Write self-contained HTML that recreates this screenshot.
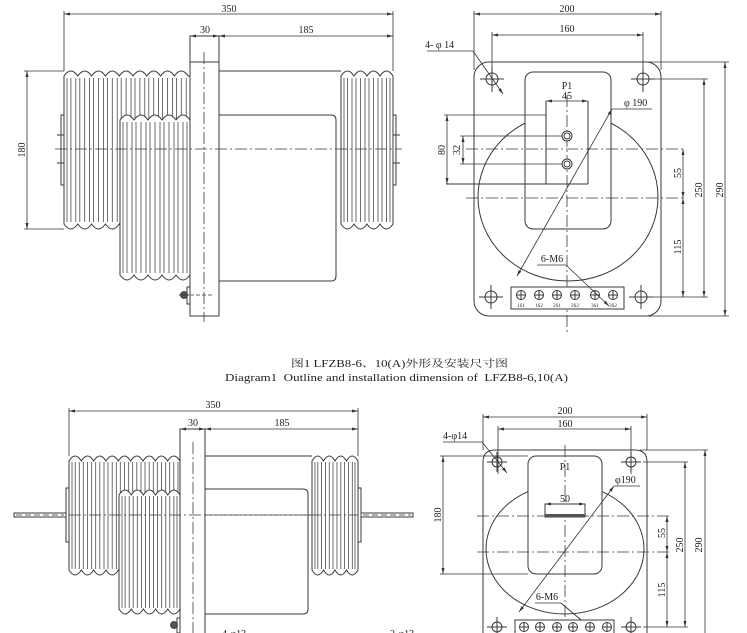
<!DOCTYPE html>
<html><head><meta charset="utf-8">
<style>
html,body{margin:0;padding:0;background:#fff;}
svg{display:block;}
.l{stroke:#383838;stroke-width:1;fill:none}
.w{stroke:#383838;stroke-width:1;fill:#fff}
.h{stroke:#4a4a4a;stroke-width:0.8;fill:none}
.c{stroke:#3a3a3a;stroke-width:0.8;fill:none;stroke-dasharray:12 3 2 3}
.d{stroke:#333;stroke-width:0.8;fill:none}
.dm{stroke:#333;stroke-width:0.8;fill:none;marker-start:url(#a);marker-end:url(#a)}
.me{stroke:#333;stroke-width:0.8;fill:none;marker-end:url(#a)}
text{font-family:"Liberation Serif","Noto Serif CJK SC",serif;fill:#222;font-size:10px}
.m{text-anchor:middle}
.s{font-size:5px}
</style></head><body>
<svg width="747" height="633" viewBox="0 0 747 633" xmlns="http://www.w3.org/2000/svg">
<defs><marker id="a" viewBox="0 0 10 10" refX="10" refY="5" markerWidth="6" markerHeight="6" markerUnits="userSpaceOnUse" orient="auto-start-reverse"><path d="M0,2.5L10,5L0,7.5z" fill="#333"/></marker></defs>

<!-- ================= TOP LEFT ================= -->
<path class="w" d="M64,224V76q6.9,-10 13.8,0q6.9,-10 13.8,0q6.9,-10 13.8,0q6.9,-10 13.8,0q6.9,-10 13.8,0q6.9,-10 13.8,0q6.9,-10 13.8,0q6.9,-10 13.8,0q6.9,-10 13.8,0L190,76V224H188.2q-6.9,10 -13.8,0q-6.9,10 -13.8,0q-6.9,10 -13.8,0q-6.9,10 -13.8,0q-6.9,10 -13.8,0q-6.9,10 -13.8,0q-6.9,10 -13.8,0q-6.9,10 -13.8,0q-6.9,10 -13.8,0Z"/>
<path class="h" d="M67,78V222M70.9,78V222M75.8,78V222M79.8,78V222M84.7,78V222M89.6,78V222M93.6,78V222M98.5,78V222M103.4,78V222M107.4,78V222M112.3,78V222M117.2,78V222M121.2,78V222M126.1,78V222M131,78V222M135,78V222M139.9,78V222M144.8,78V222M148.8,78V222M153.7,78V222M158.6,78V222M162.6,78V222M167.5,78V222M172.4,78V222M176.4,78V222M181.3,78V222M186.2,78V222"/>
<path class="w" d="M120,275V120q7,-10 14,0q7,-10 14,0q7,-10 14,0q7,-10 14,0q7,-10 14,0V275q-7,10 -14,0q-7,10 -14,0q-7,10 -14,0q-7,10 -14,0q-7,10 -14,0Z"/>
<path class="h" d="M123,122V273M127,122V273M132,122V273M136,122V273M141,122V273M146,122V273M150,122V273M155,122V273M160,122V273M164,122V273M169,122V273M174,122V273M178,122V273M183,122V273M187,122V273"/>
<rect class="w" x="190" y="36" width="29" height="280"/>
<path class="l" d="M190,62H219"/>
<path class="l" d="M219,71H341M219,115H331Q336,115 336,120V276Q336,281 331,281H219"/>
<path class="w" d="M341,224V76q6.5,-10 13,0q6.5,-10 13,0q6.5,-10 13,0q6.5,-10 13,0V224q-6.5,10 -13,0q-6.5,10 -13,0q-6.5,10 -13,0q-6.5,10 -13,0Z"/>
<path class="h" d="M344,78V222M347.5,78V222M352,78V222M356,78V222M360.5,78V222M365,78V222M369,78V222M373.5,78V222M378,78V222M382,78V222M386.5,78V222M390,78V222"/>
<rect class="w" x="61" y="115" width="3" height="70"/>
<rect class="w" x="393" y="115" width="3" height="70"/>
<path class="l" d="M57,135H64M57,163H64M393,135H400M393,163H400"/>
<path class="c" d="M55,149H402"/>
<path class="c" d="M204,52V322"/>
<rect class="w" x="187" y="287" width="3" height="17"/>
<circle cx="184" cy="295" r="3.5" fill="#555" stroke="#333" stroke-width="0.8"/>
<path class="l" d="M179,295H189"/>
<path class="c" d="M190,295H212" style="stroke-dasharray:4 2"/>
<!-- dims -->
<path class="d" d="M64,11V71M393,11V71M24,71H64M24,229H64"/>
<path class="dm" d="M64,14H393"/>
<path class="dm" d="M190,36H219"/>
<path class="dm" d="M219,36H393"/>
<path class="dm" d="M27,71V229"/>
<text class="m" x="229" y="12">350</text>
<text class="m" x="205" y="33">30</text>
<text class="m" x="306" y="33">185</text>
<text class="m" transform="translate(25,150) rotate(-90)">180</text>

<!-- ================= TOP RIGHT ================= -->
<rect class="w" x="474" y="62" width="187" height="254" rx="15"/>
<ellipse class="l" cx="568" cy="197" rx="90" ry="84"/>
<rect class="w" x="525" y="72" width="86" height="157" rx="8"/>
<circle class="l" cx="492" cy="79" r="6"/><circle class="l" cx="643" cy="79" r="6"/>
<circle class="l" cx="491" cy="297" r="6"/><circle class="l" cx="641" cy="297" r="6"/>
<path class="l" d="M480,79H504M492,67V91M631,79H655M643,67V91M479,297H503M491,285V309M629,297H653M641,285V309"/>
<path class="d" d="M474,11V70M661,11V70M492,32V92M643,32V92"/>
<path class="dm" d="M474,14H661"/>
<path class="dm" d="M492,35H643"/>
<text class="m" x="567" y="12">200</text>
<text class="m" x="567" y="32">160</text>
<text x="425" y="48" xml:space="preserve">4- φ 14</text>
<path class="d" d="M427,51H473"/>
<path class="me" d="M473,51L503,94"/>
<path class="d" d="M648,62H729M648,316H729M655,79H708M653,297H708"/>
<path class="dm" d="M725,62V316"/>
<path class="dm" d="M704,79V297"/>
<path class="dm" d="M683,149V198"/>
<path class="dm" d="M683,198V297"/>
<text class="m" transform="translate(723,190) rotate(-90)">290</text>
<text class="m" transform="translate(702,190) rotate(-90)">250</text>
<text class="m" transform="translate(681,173) rotate(-90)">55</text>
<text class="m" transform="translate(681,247) rotate(-90)">115</text>
<path class="c" d="M466,149H686M466,198H686"/>
<path class="c" d="M567,95V332"/>
<text class="m" x="567" y="89">P1</text>
<path class="dm" d="M546,101H588"/>
<text class="m" x="567" y="99">45</text>
<path class="l" d="M546,101V184M588,101V184M446,184H588"/>
<path class="d" d="M444,115H546M460,136H562M460,164H562"/>
<path class="dm" d="M447,115V184"/>
<path class="dm" d="M463,136V164"/>
<text class="m" transform="translate(445,150) rotate(-90)">80</text>
<text class="m" transform="translate(460,150) rotate(-90)">32</text>
<circle class="w" cx="567" cy="136" r="5"/><circle class="l" cx="567" cy="136" r="3"/>
<circle class="w" cx="567" cy="164" r="5"/><circle class="l" cx="567" cy="164" r="3"/>
<path class="dm" d="M517,276L612,109"/>
<path class="d" d="M612,109H652"/>
<text x="624" y="106" xml:space="preserve">φ 190</text>
<rect class="w" x="511" y="287" width="113" height="22"/>
<g class="l">
<circle cx="521" cy="295" r="4.5"/><circle cx="539" cy="295" r="4.5"/><circle cx="557" cy="295" r="4.5"/><circle cx="575" cy="295" r="4.5"/><circle cx="595" cy="295" r="4.5"/><circle cx="613" cy="295" r="4.5"/>
<path d="M516.5,295h9M521,290.5v9M534.5,295h9M539,290.5v9M552.5,295h9M557,290.5v9M570.5,295h9M575,290.5v9M590.5,295h9M595,290.5v9M608.5,295h9M613,290.5v9"/>
</g>
<text class="m s" x="521" y="307">1S1</text><text class="m s" x="539" y="307">1S2</text><text class="m s" x="557" y="307">2S1</text><text class="m s" x="575" y="307">2S2</text><text class="m s" x="595" y="307">3S1</text><text class="m s" x="613" y="307">3S2</text>
<text class="m" x="552" y="262">6-M6</text>
<path class="d" d="M537,265H566"/>
<path class="me" d="M566,265L609,306"/>

<!-- ================= CAPTION ================= -->
<text x="291" y="367" font-size="12" textLength="217" lengthAdjust="spacingAndGlyphs">图1 LFZB8-6、10(A)外形及安装尺寸图</text>
<text x="225" y="381" font-size="12" textLength="343" lengthAdjust="spacingAndGlyphs" xml:space="preserve">Diagram1  Outline and installation dimension of  LFZB8-6,10(A)</text>

<!-- ================= BOTTOM LEFT ================= -->
<path class="c" d="M20,515H412"/>
<rect class="w" x="14" y="513" width="52" height="4"/>
<rect class="w" x="361" y="513" width="52" height="4"/>
<path class="c" d="M16,515H64M363,515H411" style="stroke-dasharray:6 3"/>
<path class="w" d="M69,570V461q6.165,-10 12.33,0q6.165,-10 12.33,0q6.165,-10 12.33,0q6.165,-10 12.33,0q6.165,-10 12.33,0q6.165,-10 12.33,0q6.165,-10 12.33,0q6.165,-10 12.33,0q6.165,-10 12.33,0V570q-6.165,10 -12.33,0q-6.165,10 -12.33,0q-6.165,10 -12.33,0q-6.165,10 -12.33,0q-6.165,10 -12.33,0q-6.165,10 -12.33,0q-6.165,10 -12.33,0q-6.165,10 -12.33,0q-6.165,10 -12.33,0Z"/>
<path class="h" d="M72,462V569M75.2,462V569M79.3,462V569M83.3,462V569M87.5,462V569M91.7,462V569M95.7,462V569M99.8,462V569M104,462V569M108,462V569M112.2,462V569M116.3,462V569M120.3,462V569M124.5,462V569M128.7,462V569M132.7,462V569M136.8,462V569M141,462V569M145,462V569M149.2,462V569M153.3,462V569M157.3,462V569M161.5,462V569M165.7,462V569M169.7,462V569M173.8,462V569M178,462V569"/>
<path class="w" d="M119,609V495q6.1,-10 12.2,0q6.1,-10 12.2,0q6.1,-10 12.2,0q6.1,-10 12.2,0q6.1,-10 12.2,0V609q-6.1,10 -12.2,0q-6.1,10 -12.2,0q-6.1,10 -12.2,0q-6.1,10 -12.2,0q-6.1,10 -12.2,0Z"/>
<path class="h" d="M122,496V608M125.1,496V608M129.2,496V608M133.2,496V608M137.3,496V608M141.4,496V608M145.4,496V608M149.5,496V608M153.6,496V608M157.6,496V608M161.7,496V608M165.8,496V608M169.8,496V608M173.9,496V608M177,496V608"/>
<rect class="w" x="180" y="429" width="25" height="230"/>
<path class="l" d="M205,456H312M205,489H303Q308,489 308,494V609Q308,614 303,614H205"/>
<path class="w" d="M312,570V461q5.75,-10 11.5,0q5.75,-10 11.5,0q5.75,-10 11.5,0q5.75,-10 11.5,0V570q-5.75,10 -11.5,0q-5.75,10 -11.5,0q-5.75,10 -11.5,0q-5.75,10 -11.5,0Z"/>
<path class="h" d="M315,462V569M317.8,462V569M321.5,462V569M325.5,462V569M329.3,462V569M333,462V569M337,462V569M340.8,462V569M344.5,462V569M348.5,462V569M352.3,462V569M355,462V569"/>
<rect class="w" x="66" y="488" width="3" height="54"/>
<rect class="w" x="358" y="488" width="3" height="54"/>
<path class="c" d="M69,515H358"/>
<path class="c" d="M193,442V633"/>
<rect class="w" x="177" y="618" width="3" height="15"/>
<circle cx="174" cy="625" r="3.5" fill="#555" stroke="#333" stroke-width="0.8"/>
<path class="d" d="M69,408V456M358,408V456"/>
<path class="dm" d="M69,411H358"/>
<path class="dm" d="M180,429H205"/>
<path class="dm" d="M205,429H358"/>
<text class="m" x="213" y="408">350</text>
<text class="m" x="193" y="426">30</text>
<text class="m" x="282" y="426">185</text>
<text x="222" y="637">4-φ13</text>
<text x="390" y="637">2-φ13</text>

<!-- ================= BOTTOM RIGHT ================= -->
<path class="w" d="M483,640V462Q483,450 495,450H635Q647,450 647,462V640"/>
<ellipse class="l" cx="565" cy="549" rx="79" ry="65"/>
<rect class="w" x="528" y="456" width="74" height="118" rx="8"/>
<circle class="l" cx="497" cy="462" r="5"/><circle class="l" cx="631" cy="462" r="5"/>
<circle class="l" cx="497" cy="627" r="5"/><circle class="l" cx="631" cy="627" r="5"/>
<path class="l" d="M487,462H507M497,452V472M621,462H641M631,452V472M487,627H507M497,617V637M621,627H641M631,617V637"/>
<path class="d" d="M483,414V450M647,414V450M498,426V474M631,426V474"/>
<path class="dm" d="M483,417H647"/>
<path class="dm" d="M498,429H631"/>
<text class="m" x="565" y="414">200</text>
<text class="m" x="565" y="427">160</text>
<text x="443" y="439">4-φ14</text>
<path class="d" d="M443,442H482"/>
<path class="me" d="M482,442L507,473"/>
<path class="d" d="M640,450H708M643,462H688M643,627H688"/>
<path class="dm" d="M705,450V645"/>
<path class="dm" d="M685,462V627"/>
<path class="dm" d="M667,516V552"/>
<path class="dm" d="M667,552V627"/>
<text class="m" transform="translate(702,545) rotate(-90)">290</text>
<text class="m" transform="translate(683,545) rotate(-90)">250</text>
<text class="m" transform="translate(665,533) rotate(-90)">55</text>
<text class="m" transform="translate(665,590) rotate(-90)">115</text>
<path class="c" d="M477,516H670M477,552H670"/>
<path class="c" d="M565,445V633"/>
<path class="d" d="M440,456H528M440,574H528"/>
<path class="dm" d="M443,456V574"/>
<text class="m" transform="translate(441,515) rotate(-90)">180</text>
<text class="m" x="565" y="470">P1</text>
<rect class="w" x="545" y="504" width="40" height="13"/>
<rect x="545" y="514" width="40" height="3" fill="#555"/>
<path class="dm" d="M545,504H585"/>
<text class="m" x="565" y="502">50</text>
<path class="dm" d="M519,612L614,486"/>
<path class="d" d="M614,486H640"/>
<text x="615" y="483">φ190</text>
<text class="m" x="547" y="600">6-M6</text>
<path class="d" d="M535,603H561"/>
<path class="l" d="M561,603L600,636"/>
<rect class="w" x="515" y="620" width="99" height="20"/>
<g class="l">
<circle cx="524" cy="627" r="4.5"/><circle cx="540" cy="627" r="4.5"/><circle cx="557" cy="627" r="4.5"/><circle cx="573" cy="627" r="4.5"/><circle cx="590" cy="627" r="4.5"/><circle cx="607" cy="627" r="4.5"/>
<path d="M519.5,627h9M524,622.5v9M535.5,627h9M540,622.5v9M552.5,627h9M557,622.5v9M568.5,627h9M573,622.5v9M585.5,627h9M590,622.5v9M602.5,627h9M607,622.5v9"/>
</g>
</svg>
</body></html>
